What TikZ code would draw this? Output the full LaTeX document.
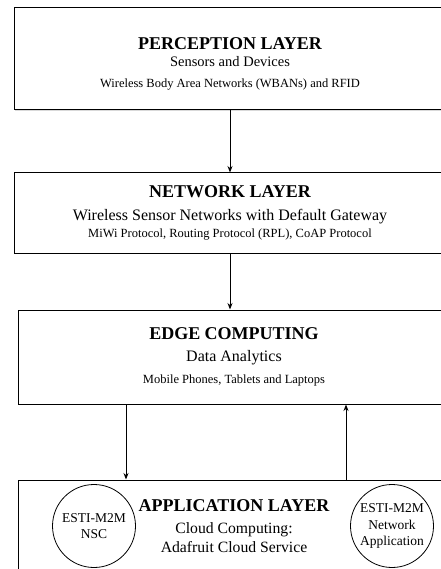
\documentclass[tikz,border=0pt]{standalone}
\usepackage{fontspec}
\setmainfont{Liberation Serif}
\usetikzlibrary{arrows.meta, positioning, shadows}
\tikzstyle{layer_box} = [rectangle, draw=black, line width=1pt, fill=white, minimum width=432pt, align=center, inner sep=0pt, font=\fontsize{12.5}{18}\selectfont, drop shadow={shadow xshift=0.5pt, shadow yshift=-1.2pt, opacity=0.3}]
\tikzstyle{m2m_circle} = [circle, draw=black, line width=0.8pt, fill=white, minimum size=83pt, align=center, inner sep=0pt, font=\fontsize{13.5}{15.5}\selectfont]
\tikzstyle{flow_arrow} = [line width=1pt, -{Stealth[length=6.5pt, width=5pt]}]
\newcommand{\layertitle}[1]{{\fontsize{18}{18}\selectfont\bfseries #1}}

\begin{document}
\begin{tikzpicture}
    \useasboundingbox (0,0) rectangle (440pt,-569pt);
    \node (perception) [layer_box, minimum height=102pt] at (230pt,-59pt) {\rule{0pt}{21pt}\layertitle{PERCEPTION LAYER}\\[-1pt]
        {\fontsize{14.5}{18}\selectfont Sensors and Devices}\\[3pt]
        Wireless Body Area Networks (WBANs) and RFID};
    \node (network) [layer_box, minimum height=80pt, below=62pt of perception] {\layertitle{NETWORK LAYER}\\[5pt]
        {\fontsize{16}{18}\selectfont Wireless Sensor Networks with Default Gateway}\\[-1pt]
        MiWi Protocol, Routing Protocol (RPL), CoAP Protocol};
    \node (edge) [layer_box, minimum height=94pt, below=56pt of network, xshift=4pt] {\layertitle{EDGE COMPUTING}\\[3.5pt]
        {\fontsize{16}{18}\selectfont Data Analytics}\\[4pt]
        Mobile Phones, Tablets and Laptops};
    \node (app) [layer_box, minimum height=150pt, below=75pt of edge] {};
    \node (app_text) [anchor=north, inner sep=0pt, align=center, font=\fontsize{15.7}{19}\selectfont] at ([yshift=-19.5pt]app.north) {\layertitle{APPLICATION LAYER}\\[3.5pt]
        Cloud Computing:\\
        Adafruit Cloud Service};
    \node (nsc) [m2m_circle] at (94pt,-526pt) {ESTI-M2M\\NSC};
    \node (netapp) [m2m_circle] at (392pt,-526pt) {ESTI-M2M\\[1pt]Network\\[1pt]Application};

    \draw [flow_arrow] (perception.south) -- (perception.south |- network.north);
    \draw [flow_arrow] (network.south) -- (network.south |- edge.north);
    \draw [flow_arrow] ([xshift=-108pt]edge.south) -- ([xshift=-108pt]edge.south |- app.north);
    \draw [flow_arrow] ([xshift=112pt]app.north) -- ([xshift=112pt]app.north |- edge.south);
\end{tikzpicture}
\end{document}
